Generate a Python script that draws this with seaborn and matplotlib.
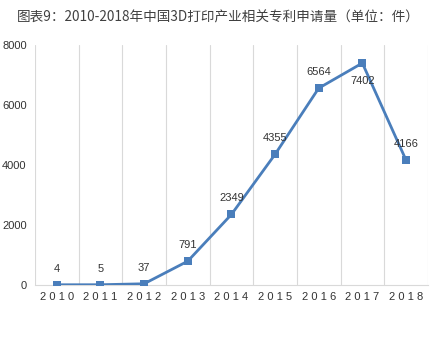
import matplotlib
matplotlib.use("Agg")
import matplotlib.pyplot as plt
import seaborn as sns
import pandas as pd
import numpy as np

years = ["2010", "2011", "2012", "2013", "2014", "2015", "2016", "2017", "2018"]
patents = [4, 5, 37, 791, 2349, 4355, 6564, 7402, 4166]
y_ticks = [0, 2000, 4000, 6000, 8000]
title = "图表9：2010-2018年中国3D打印产业相关专利申请量（单位：件）"

sns.set_theme(style="white")
plt.rcParams["font.family"] = ["Liberation Sans", "Noto Sans CJK SC", "DejaVu Sans"]

df = pd.DataFrame({"year": years, "count": patents})
df["pos"] = np.arange(len(years))

fig = plt.figure(figsize=(4.37, 3.42), dpi=100)
ax = fig.add_axes([0.080, 0.167, 0.899, 0.701])

line_color = "#4a7ebb"
sns.lineplot(data=df, x="pos", y="count", ax=ax, color=line_color,
             linewidth=2, marker="s", markersize=6, markeredgewidth=0,
             zorder=3)

ax.set_xlim(-0.5, len(years) - 0.5)
ax.set_ylim(0, 8000)
ax.set_xticks(df["pos"])
ax.set_xticklabels([" ".join(y) for y in years], fontsize=8, color="#333333")
ax.set_yticks(y_ticks)
ax.set_yticklabels([str(v) for v in y_ticks], fontsize=8, color="#333333")
ax.set_xticks(np.arange(-0.5, len(years), 1), minor=True)
ax.grid(axis="x", which="minor", color="#d9d9d9", linewidth=0.8)
ax.grid(axis="x", which="major", visible=False)
ax.grid(axis="y", visible=False)
ax.tick_params(axis="both", which="both", length=0)
ax.tick_params(axis="y", pad=6)
ax.tick_params(axis="x", pad=5)
ax.set_xlabel("")
ax.set_ylabel("")
for side in ["top", "right", "left"]:
    ax.spines[side].set_visible(False)
ax.spines["bottom"].set_color("#d9d9d9")
ax.spines["bottom"].set_linewidth(0.8)

for x, v in zip(df["pos"], patents):
    if v == max(patents):
        ax.annotate(str(v), (x, v), xytext=(0, -9), textcoords="offset points",
                    ha="center", va="top", fontsize=8, color="#333333")
    else:
        ax.annotate(str(v), (x, v), xytext=(0, 8), textcoords="offset points",
                    ha="center", va="bottom", fontsize=8, color="#333333")

fig.text(0.5, 0.95, title, ha="center", va="center", fontsize=9.8,
         color="#404040", family=["Noto Sans CJK SC", "DejaVu Sans"])

fig.savefig("out.png", dpi=100)
